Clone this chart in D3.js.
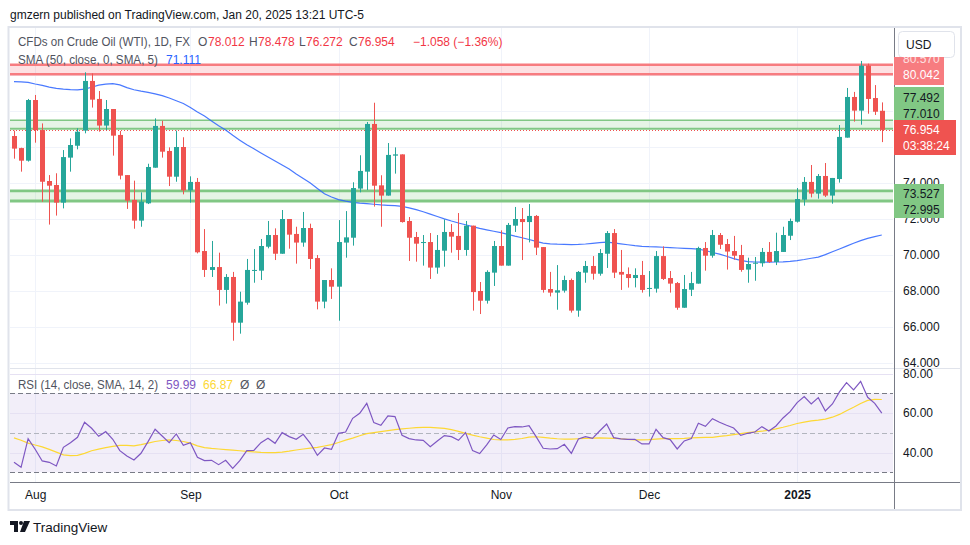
<!DOCTYPE html>
<html lang="en">
<head>
<meta charset="utf-8">
<script src="https://cdn.jsdelivr.net/npm/d3@7"></script>
<style>
body { margin: 0; background: #fff; }
svg text { font-family: "Liberation Sans", Arial, sans-serif; }
</style>
</head>
<body>
<svg id="chart" width="970" height="545"></svg>
<script>
// daily candles, 29 Jul 2024 .. 20 Jan 2025
var opens = [76.61,75.94,75.24,78.61,76.94,74.11,73.89,72.91,75.41,76.07,
  76.91,79.67,78.67,77.19,78.11,76.67,74.44,73.06,71.91,72.87,
  74.85,77.17,75.78,74.35,76.00,73.59,74.06,70.22,69.17,69.33,
  68.06,68.78,66.24,67.35,69.13,69.13,70.46,71.11,70.07,72.00,
  71.17,70.69,71.50,69.83,67.41,68.61,68.24,70.69,70.96,73.69,
  74.63,77.28,73.87,73.30,75.52,75.59,71.89,71.00,70.69,70.72,
  69.30,70.24,71.28,71.06,70.28,71.63,68.00,67.46,69.02,70.50,
  69.41,71.63,72.00,71.83,72.17,70.44,68.11,67.91,68.02,68.61,
  66.91,69.02,69.39,68.96,70.07,71.22,69.06,68.94,68.72,68.89,
  68.13,68.13,69.94,68.72,68.44,67.07,68.07,68.41,70.39,69.96,
  71.11,70.61,70.22,70.00,69.19,69.54,69.54,70.17,69.61,70.17,
  71.07,71.85,73.07,74.06,73.41,74.39,73.30,74.22,76.52,78.78,
  78.02,80.52,78.72,78.012];
var highs = [76.91,75.96,78.67,78.89,77.31,74.44,74.54,75.83,76.48,77.04,
  80.15,80.09,79.11,78.61,78.11,76.89,74.44,74.13,73.48,75.07,
  77.59,77.46,75.98,76.91,76.54,74.37,74.28,71.44,70.78,70.13,
  68.94,69.06,67.96,69.78,70.33,70.89,71.89,71.48,72.50,72.00,
  71.57,72.39,71.74,70.00,68.61,69.26,71.94,72.44,74.04,75.54,
  77.39,78.46,74.43,76.22,75.98,75.59,72.11,71.28,71.11,71.22,
  71.11,71.98,71.72,72.33,71.89,71.63,68.50,69.15,70.78,71.37,
  71.78,72.67,72.61,72.83,72.22,70.44,69.06,69.44,68.85,68.69,
  69.11,69.67,69.94,70.33,71.33,71.44,70.28,69.31,69.26,69.67,
  69.11,70.22,70.48,69.11,68.50,68.89,69.06,70.46,70.72,71.39,
  71.22,70.89,71.06,70.56,69.85,69.89,70.39,70.72,71.24,71.57,
  72.02,73.72,74.33,75.00,74.50,75.11,74.28,77.22,79.28,79.06,
  80.78,80.63,79.44,78.478];
var lows = [75.35,74.63,75.19,76.24,72.96,71.69,72.19,72.59,74.63,75.87,
  76.76,78.19,76.85,76.94,75.52,74.20,72.56,71.46,71.57,72.83,
  74.85,75.41,73.83,74.07,73.37,72.91,70.09,68.78,68.78,67.19,
  67.30,65.24,65.63,67.24,68.46,68.61,70.37,69.72,70.07,70.35,
  69.52,70.46,69.22,66.98,67.04,67.56,66.35,69.85,70.52,73.48,
  73.61,72.69,71.57,73.30,74.52,71.80,69.67,69.63,69.41,68.67,
  68.96,69.35,70.13,69.72,69.96,66.91,66.72,67.30,68.28,69.41,
  69.41,71.28,69.72,70.70,70.00,67.91,67.70,66.96,67.91,66.80,
  66.57,68.46,68.63,68.85,69.28,68.72,68.06,68.19,68.20,67.91,
  67.69,67.91,68.61,67.91,66.96,67.07,67.72,68.41,69.13,69.85,
  70.33,69.19,69.74,69.07,68.46,68.57,69.35,69.56,69.44,70.17,
  70.83,71.80,72.74,73.20,73.13,73.22,72.85,74.02,76.52,77.41,
  77.24,77.85,77.78,76.272];
var closes = [75.91,75.24,78.61,76.94,74.07,73.85,72.91,75.44,76.11,76.85,
  79.67,78.63,77.19,78.11,76.63,74.41,73.02,71.91,72.96,74.89,
  77.17,75.74,74.35,76.00,73.59,74.06,70.15,69.17,69.33,68.06,
  68.78,66.24,67.41,69.17,69.17,70.50,71.11,70.07,72.00,71.13,
  70.69,71.50,69.78,67.41,68.61,68.24,70.72,70.98,73.72,74.67,
  77.28,73.85,73.30,75.56,75.59,71.83,70.96,70.63,70.72,69.30,
  70.28,71.28,71.02,70.28,71.63,67.94,67.46,69.06,70.50,69.41,
  71.67,72.00,71.83,72.17,70.41,68.06,67.91,68.04,68.61,66.91,
  69.06,69.39,68.96,70.11,71.22,69.02,68.91,68.72,68.89,68.06,
  68.17,69.94,68.67,68.41,67.07,68.11,68.44,70.39,69.96,71.11,
  70.57,70.19,69.96,69.17,69.50,69.57,70.17,69.61,70.22,71.11,
  71.89,73.11,74.06,73.41,74.39,73.30,74.28,76.56,78.78,78.02,
  80.52,78.67,77.96,76.954];

var sma50 = [79.63,79.62,79.59,79.50,79.42,79.33,79.26,79.22,79.19,79.17,
  79.22,79.32,79.44,79.49,79.52,79.45,79.30,79.18,79.10,79.03,
  78.95,78.85,78.72,78.57,78.42,78.20,77.95,77.72,77.45,77.18,
  76.95,76.65,76.38,76.12,75.90,75.67,75.45,75.22,75.00,74.78,
  74.50,74.25,74.00,73.70,73.40,73.22,73.08,72.99,72.92,72.88,
  72.85,72.82,72.78,72.76,72.74,72.70,72.62,72.52,72.40,72.27,
  72.14,72.01,71.89,71.78,71.68,71.58,71.48,71.40,71.32,71.24,
  71.15,71.05,70.96,70.86,70.76,70.66,70.62,70.60,70.59,70.58,
  70.59,70.61,70.65,70.69,70.72,70.67,70.62,70.57,70.52,70.48,
  70.46,70.45,70.43,70.41,70.39,70.37,70.35,70.33,70.25,70.14,
  70.05,69.93,69.80,69.70,69.63,69.61,69.60,69.60,69.61,69.62,
  69.65,69.69,69.75,69.82,69.88,70.02,70.18,70.33,70.49,70.65,
  70.80,70.92,71.02,71.11];

var rsi = [35.06,32.53,47.05,41.65,35.74,35.06,33.21,42.66,45.02,47.72,
  55.32,52.28,48.23,50.59,46.71,40.97,38.27,36.24,39.62,45.53,
  51.77,48.40,45.02,49.41,43.67,45.02,37.59,35.91,36.08,33.88,
  36.08,32.02,35.91,40.97,41.14,45.02,47.21,44.68,50.08,48.06,
  46.71,49.24,44.68,38.61,42.32,41.65,49.75,50.42,57.34,59.87,
  64.94,55.15,53.80,58.52,58.19,48.73,47.05,46.37,46.20,43.00,
  45.86,48.57,48.06,46.20,50.08,40.97,39.45,43.84,48.90,46.60,
  52.45,53.12,52.95,53.63,48.06,42.15,41.81,41.98,44.18,39.62,
  46.88,48.06,47.21,50.93,54.47,47.55,46.88,46.71,46.71,44.35,
  44.35,51.77,47.55,46.54,41.81,45.86,47.05,54.81,53.29,57.17,
  55.32,53.80,52.45,48.73,49.75,50.42,53.12,50.93,53.46,57.51,
  60.72,65.27,68.31,64.60,67.81,61.05,64.60,70.68,75.40,71.69,
  76.08,67.97,64.94,59.99];
var rsiMa = [47.4,46.2,44.8,43.8,42.9,41.6,40.2,38.8,38.4,38.6,
  39.6,40.9,41.7,42.5,43.1,43.6,43.6,43.4,44.0,44.8,
  45.6,46.1,46.4,46.1,45.6,44.8,43.4,42.5,42.1,41.8,
  41.5,41.2,40.9,40.6,40.3,40.1,40.0,40.0,40.2,40.7,
  41.3,41.8,42.2,42.6,43.3,44.0,45.1,46.3,47.3,48.5,
  49.6,50.1,50.6,51.1,51.6,52.0,52.3,52.6,52.7,52.7,
  52.5,52.2,51.6,50.7,49.7,48.8,48.0,47.3,46.6,46.4,
  46.4,46.7,47.1,47.8,48.0,47.7,47.3,47.0,46.8,46.8,
  47.0,47.2,47.3,47.4,47.3,47.2,47.0,46.7,46.4,46.4,
  46.5,46.8,47.1,47.1,47.1,47.2,47.4,47.6,47.7,47.7,
  48.2,48.6,49.1,49.6,50.1,50.5,50.8,51.3,52.0,52.8,
  53.7,54.7,55.4,56.0,56.4,56.9,57.9,59.3,61.2,62.9,
  64.8,66.4,66.9,66.87];

var monthIdx = [3, 25, 46, 69, 90, 111];
var monthLabels = ["Aug", "Sep", "Oct", "Nov", "Dec", "2025"];
var priceTicks = [64, 66, 68, 70, 72, 74, 76, 78, 80];
var priceTickLabels = [64, 66, 68, 70, 72, 74];   // the rest sit under the coloured labels
var rsiTicks = [40, 60, 80];
var rsiBands = [70, 50, 30];

var resistZone = [80.57, 80.042];
var upperSupport = [77.492, 77.010];
var lowerSupport = [73.60, 73.527, 72.995];
var lastClose = 76.954;

var candles = opens.map(function(o, i) {
  return {i: i, o: o, h: highs[i], l: lows[i], c: closes[i]};
});

var left = 10, right = 893, priceTop = 28, priceBot = 368, rsiTop = 369, rsiBot = 482, axisR = 960;

var x = d3.scaleLinear().domain([0, 123]).range([14, 881.8]);
var y = d3.scaleLinear().domain([64, 80]).range([363, 75]);
var yr = d3.scaleLinear().domain([30, 70]).range([472.3, 393.3]);

var up = "#26a69a", down = "#ef5350";

var svg = d3.select("#chart");

// header
svg.append("text").attr("x", 10).attr("y", 18.5)
  .style("font-size", "12px").attr("fill", "#131722")
  .text("gmzern published on TradingView.com, Jan 20, 2025 13:21 UTC-5");

// frame
svg.append("rect").attr("x", 8.5).attr("y", 27).attr("width", 952.5).attr("height", 483)
  .attr("fill", "#fff").attr("stroke", "#e0e3eb").attr("stroke-width", 2);

var defs = svg.append("defs");
defs.append("clipPath").attr("id", "pclip").append("rect")
  .attr("x", left).attr("y", priceTop).attr("width", right - left).attr("height", priceBot - priceTop);
defs.append("clipPath").attr("id", "rclip").append("rect")
  .attr("x", left).attr("y", rsiTop).attr("width", right - left).attr("height", rsiBot - rsiTop);

// vertical grid
svg.append("g").selectAll("line").data(monthIdx).enter().append("line")
  .attr("x1", function(d) { return Math.round(x(d)) + 0.5; })
  .attr("x2", function(d) { return Math.round(x(d)) + 0.5; })
  .attr("y1", priceTop).attr("y2", rsiBot)
  .attr("stroke", "#f0f3fa").attr("stroke-width", 1);

// price pane
var pg = svg.append("g").attr("clip-path", "url(#pclip)");

pg.selectAll(".hgrid").data(priceTicks).enter().append("line")
  .attr("x1", left).attr("x2", right)
  .attr("y1", function(d) { return Math.round(y(d)) + 0.5; })
  .attr("y2", function(d) { return Math.round(y(d)) + 0.5; })
  .attr("stroke", "#f0f3fa");

// resistance zone
pg.append("rect").attr("x", left).attr("width", right - left)
  .attr("y", y(resistZone[0])).attr("height", y(resistZone[1]) - y(resistZone[0]))
  .attr("fill", "rgba(242,54,69,0.15)");
resistZone.forEach(function(v) {
  pg.append("line").attr("x1", left).attr("x2", right).attr("y1", y(v)).attr("y2", y(v))
    .attr("stroke", "#f77c80").attr("stroke-width", 2.5);
});

// support zones
function zone(lo, hi) {
  pg.append("rect").attr("x", left).attr("width", right - left)
    .attr("y", y(hi)).attr("height", y(lo) - y(hi))
    .attr("fill", "rgba(76,175,80,0.14)");
}
zone(upperSupport[1], upperSupport[0]);
zone(lowerSupport[2], lowerSupport[0]);
[[upperSupport[0], 1.5], [upperSupport[1], 2], [lowerSupport[0], 1.5], [lowerSupport[1], 1.5], [lowerSupport[2], 3]]
  .forEach(function(d) {
    pg.append("line").attr("x1", left).attr("x2", right).attr("y1", y(d[0])).attr("y2", y(d[0]))
      .attr("stroke", "#81c784").attr("stroke-width", d[1]);
  });

// last price dotted line
pg.append("line").attr("x1", left).attr("x2", right)
  .attr("y1", Math.round(y(lastClose)) + 0.5).attr("y2", Math.round(y(lastClose)) + 0.5)
  .attr("stroke", down).attr("stroke-width", 1).attr("stroke-dasharray", "1,2");

// SMA
pg.append("path").datum(sma50)
  .attr("fill", "none").attr("stroke", "#2962ff").attr("stroke-width", 1.2).attr("opacity", 0.85)
  .attr("d", d3.line().x(function(d, i) { return x(i); }).y(function(d) { return y(d); }));

// candles
var cg = pg.selectAll(".candle").data(candles).enter().append("g");
cg.append("line")
  .attr("x1", function(d) { return Math.round(x(d.i)) + 0.5; })
  .attr("x2", function(d) { return Math.round(x(d.i)) + 0.5; })
  .attr("y1", function(d) { return y(d.h); })
  .attr("y2", function(d) { return y(d.l); })
  .attr("stroke", function(d) { return d.c >= d.o ? up : down; });
cg.append("rect")
  .attr("x", function(d) { return Math.round(x(d.i)) - 2; })
  .attr("width", 5)
  .attr("y", function(d) { return y(Math.max(d.o, d.c)); })
  .attr("height", function(d) { return Math.max(1, Math.abs(y(d.o) - y(d.c))); })
  .attr("fill", function(d) { return d.c >= d.o ? up : down; });

// pane separator
svg.append("line").attr("x1", left).attr("x2", axisR).attr("y1", 368.5).attr("y2", 368.5)
  .attr("stroke", "#e0e3eb");

// RSI pane
var rg = svg.append("g").attr("clip-path", "url(#rclip)");
rg.append("rect").attr("x", left).attr("width", right - left)
  .attr("y", yr(70)).attr("height", yr(30) - yr(70))
  .attr("fill", "rgba(126,87,194,0.1)");
rg.selectAll(".rgrid").data(rsiTicks).enter().append("line")
  .attr("x1", left).attr("x2", right)
  .attr("y1", function(d) { return Math.round(yr(d)) + 0.5; })
  .attr("y2", function(d) { return Math.round(yr(d)) + 0.5; })
  .attr("stroke", "#e6e1f3");
rg.selectAll(".rband").data(rsiBands).enter().append("line")
  .attr("x1", left).attr("x2", right)
  .attr("y1", function(d) { return Math.round(yr(d)) + 0.5; })
  .attr("y2", function(d) { return Math.round(yr(d)) + 0.5; })
  .attr("stroke", function(d) { return d === 50 ? "#b2b5be" : "#787b86"; })
  .attr("stroke-dasharray", "5,3");
rg.append("path").datum(rsiMa)
  .attr("fill", "none").attr("stroke", "#fdd835").attr("stroke-width", 1.2)
  .attr("d", d3.line().x(function(d, i) { return x(i); }).y(function(d) { return yr(d); }));
rg.append("path").datum(rsi)
  .attr("fill", "none").attr("stroke", "#7e57c2").attr("stroke-width", 1.2)
  .attr("d", d3.line().x(function(d, i) { return x(i); }).y(function(d) { return yr(d); }));

// axes lines
svg.append("line").attr("x1", right + 1.5).attr("x2", right + 1.5).attr("y1", 28).attr("y2", 509)
  .attr("stroke", "#787b86");
svg.append("line").attr("x1", left).attr("x2", axisR).attr("y1", 482.5).attr("y2", 482.5)
  .attr("stroke", "#787b86");

// price axis
var pa = svg.append("g").attr("transform", "translate(" + right + ",0)")
  .call(d3.axisRight(y).tickValues(priceTickLabels).tickSize(0).tickPadding(10).tickFormat(d3.format(".3f")));
pa.select(".domain").remove();
pa.selectAll("text").style("font-size", "12px").attr("fill", "#131722");

// RSI axis
var ra = svg.append("g").attr("transform", "translate(" + right + ",0)")
  .call(d3.axisRight(yr).tickValues(rsiTicks).tickSize(0).tickPadding(10).tickFormat(d3.format(".2f")));
ra.select(".domain").remove();
ra.selectAll("text").style("font-size", "12px").attr("fill", "#131722");

// time axis
var ta = svg.append("g").attr("transform", "translate(0," + rsiBot + ")")
  .call(d3.axisBottom(x).tickValues(monthIdx).tickSize(0).tickPadding(8)
    .tickFormat(function(d, i) { return monthLabels[i]; }));
ta.select(".domain").remove();
ta.selectAll("text").style("font-size", "12px").attr("fill", "#131722")
  .style("font-weight", function(d, i) { return monthLabels[i] === "2025" ? "bold" : "normal"; });

// USD box
svg.append("rect").attr("x", 898.5).attr("y", 31.5).attr("width", 56).attr("height", 26).attr("rx", 4)
  .attr("fill", "#fff").attr("stroke", "#e0e3eb");
svg.append("text").attr("x", 906).attr("y", 49).style("font-size", "12px").attr("fill", "#131722").text("USD");

// price labels
var lab = svg.append("g");
function priceBox(y0, h, w, fill) {
  lab.append("rect").attr("x", right + 1).attr("y", y0).attr("width", w).attr("height", h).attr("fill", fill);
}
function priceText(txt, cy, fill) {
  lab.append("text").attr("x", 903).attr("y", cy).attr("dy", "0.35em")
    .style("font-size", "12px").attr("fill", fill).text(txt);
}
defs.append("clipPath").attr("id", "topclip").append("rect")
  .attr("x", right + 1).attr("y", 57).attr("width", 50).attr("height", 7);
priceBox(57, 28, 50, "#f77c80");
lab.append("text").attr("x", 903).attr("y", 59).attr("dy", "0.35em").attr("clip-path", "url(#topclip)")
  .style("font-size", "12px").attr("fill", "#fde0e1").text(d3.format(".3f")(resistZone[0]));
priceText(d3.format(".3f")(resistZone[1]), 74.5, "#fff");
priceBox(87, 33, 50, "#81c784");
priceText(d3.format(".3f")(upperSupport[0]), 97.5, "#131722");
priceText(d3.format(".3f")(upperSupport[1]), 113.5, "#131722");
priceBox(120, 35, 62, "#ef5350");
priceText(d3.format(".3f")(lastClose), 130, "#fff");
priceText("03:38:24", 146, "#fff");
priceBox(184, 34, 50, "#81c784");
priceText(d3.format(".3f")(lowerSupport[1]), 193.5, "#131722");
priceText(d3.format(".3f")(lowerSupport[2]), 209.5, "#131722");

// legends: [x, text, colour, width]
function legend(yy, parts) {
  var t = svg.append("text").attr("y", yy).attr("dy", "0.35em").style("font-size", "12px");
  parts.forEach(function(p) {
    var s = t.append("tspan").attr("x", p[0]).attr("fill", p[2]).text(p[1]);
    if (p[3]) s.attr("textLength", p[3]).attr("lengthAdjust", "spacingAndGlyphs");
  });
}
var grey = "#50535e", red = "#f23645";
legend(42, [[18, "CFDs on Crude Oil (WTI), 1D, FX", grey, 172],
  [198, "O", grey], [208, "78.012", red],
  [249, "H", grey], [258, "78.478", red],
  [299, "L", grey], [306, "76.272", red],
  [349, "C", grey], [358, "76.954", red],
  [413, "\u22121.058 (\u22121.36%)", red]]);
legend(60, [[18, "SMA (50, close, 0, SMA, 5)", grey, 140], [166, "71.111", "#2962ff"]]);
legend(385, [[18, "RSI (14, close, SMA, 14, 2)", grey, 140], [166, "59.99", "#7e57c2"],
  [203, "66.87", "#fdd835"], [240, "\u00d8", grey], [256, "\u00d8", grey]]);

// TradingView logo
var logo = svg.append("g").attr("transform", "translate(10,521)").attr("fill", "#131722");
logo.append("path").attr("d", "M0 0 H8 V11 H4 V4 H0 Z");
logo.append("circle").attr("cx", 11).attr("cy", 2).attr("r", 2);
logo.append("path").attr("d", "M14 0 H20 L15 11 H10 Z");
svg.append("text").attr("x", 33).attr("y", 527).attr("dy", "0.35em")
  .style("font-size", "13.5px").attr("fill", "#131722").text("TradingView");
</script>
</body>
</html>
